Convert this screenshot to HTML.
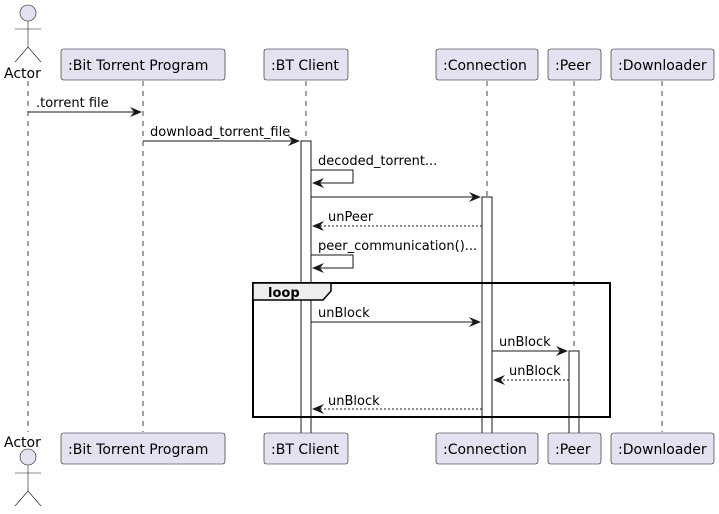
<!DOCTYPE html>
<html><head><style>body{margin:0;background:#fff}svg{display:block}text{font-family:"DejaVu Sans","Liberation Sans",sans-serif;font-size:13px;fill:#000}</style></head><body>
<svg width="719" height="514" viewBox="0 0 719 514" xmlns="http://www.w3.org/2000/svg">
<g stroke="#181818" stroke-width="0.8" stroke-dasharray="5,5">
<line x1="28" y1="81" x2="28" y2="432"/>
<line x1="143" y1="81" x2="143" y2="432"/>
<line x1="306" y1="81" x2="306" y2="432"/>
<line x1="487" y1="81" x2="487" y2="432"/>
<line x1="574" y1="81" x2="574" y2="432"/>
<line x1="662" y1="81" x2="662" y2="432"/>
</g>
<g fill="#fff" stroke="none">
<rect x="301" y="141" width="10" height="292"/>
<rect x="482" y="197" width="10" height="236"/>
<rect x="569" y="351" width="10" height="82"/>
</g>
<g fill="none" stroke="#181818" stroke-width="1">
<path d="M301 433V141H311V433"/>
<path d="M482 433V197H492V433"/>
<path d="M569 433V351H579V433"/>
</g>
<g fill="#E2E2F0" stroke="#181818" stroke-width="0.6">
<rect x="61" y="49" width="164" height="31" rx="2.5"/>
<rect x="264" y="49" width="84" height="31" rx="2.5"/>
<rect x="436" y="49" width="102" height="31" rx="2.5"/>
<rect x="548" y="49" width="53" height="31" rx="2.5"/>
<rect x="611" y="49" width="103" height="31" rx="2.5"/>
<rect x="61" y="433" width="164" height="31" rx="2.5"/>
<rect x="264" y="433" width="84" height="31" rx="2.5"/>
<rect x="436" y="433" width="102" height="31" rx="2.5"/>
<rect x="548" y="433" width="53" height="31" rx="2.5"/>
<rect x="611" y="433" width="103" height="31" rx="2.5"/>
</g>
<g>
<text x="68" y="70" style="font-size:14px">:Bit Torrent Program</text>
<text x="271" y="70" style="font-size:14px">:BT Client</text>
<text x="443" y="70" style="font-size:14px">:Connection</text>
<text x="555" y="70" style="font-size:14px">:Peer</text>
<text x="618" y="70" style="font-size:14px">:Downloader</text>
<text x="68" y="454" style="font-size:14px">:Bit Torrent Program</text>
<text x="271" y="454" style="font-size:14px">:BT Client</text>
<text x="443" y="454" style="font-size:14px">:Connection</text>
<text x="555" y="454" style="font-size:14px">:Peer</text>
<text x="618" y="454" style="font-size:14px">:Downloader</text>
</g>
<g fill="#E2E2F0" stroke="#181818" stroke-width="0.6">
<circle cx="28" cy="13" r="8"/>
<circle cx="28" cy="457" r="8"/>
</g>
<g stroke="#181818" stroke-width="0.6" fill="none">
<path d="M28 21V47M15 29H41M28 47L15 62M28 47L41 62"/>
<path d="M28 465V491M15 473H41M28 491L15 506M28 491L41 506"/>
</g>
<text x="4" y="78" style="font-size:14px">Actor</text>
<text x="4" y="447" style="font-size:14px">Actor</text>
<rect x="253" y="283" width="357" height="134" fill="none" stroke="#000" stroke-width="2"/>
<path d="M253 283H331V291L323 300H253Z" fill="#EEEEEE" stroke="#000" stroke-width="1.5"/>
<text x="268" y="297" style="font-weight:bold">loop</text>
<g stroke="#181818" stroke-width="1" fill="none">
<line x1="28" y1="112" x2="140" y2="112"/>
<line x1="143" y1="141" x2="298" y2="141"/>
<path d="M311 170H353V183H313"/>
<line x1="311" y1="197" x2="479" y2="197"/>
<line x1="482" y1="226" x2="314" y2="226" stroke-dasharray="2,2"/>
<path d="M311 255H353V268H313"/>
<line x1="311" y1="322" x2="479" y2="322"/>
<line x1="492" y1="351" x2="566" y2="351"/>
<line x1="569" y1="380" x2="495" y2="380" stroke-dasharray="2,2"/>
<line x1="482" y1="409" x2="314" y2="409" stroke-dasharray="2,2"/>
</g>
<g fill="#181818">
<path d="M142 112l-12-5 4 5-4 5z"/>
<path d="M300 141l-12-5 4 5-4 5z"/>
<path d="M312 183l12-5-4 5 4 5z"/>
<path d="M481 197l-12-5 4 5-4 5z"/>
<path d="M312 226l12-5-4 5 4 5z"/>
<path d="M312 268l12-5-4 5 4 5z"/>
<path d="M481 322l-12-5 4 5-4 5z"/>
<path d="M568 351l-12-5 4 5-4 5z"/>
<path d="M493 380l12-5-4 5 4 5z"/>
<path d="M312 409l12-5-4 5 4 5z"/>
</g>
<text x="36" y="107">.torrent file</text>
<text x="150" y="136">download_torrent_file</text>
<text x="318" y="165">decoded_torrent...</text>
<text x="328" y="221">unPeer</text>
<text x="318" y="250">peer_communication()...</text>
<text x="318" y="317">unBlock</text>
<text x="499" y="346">unBlock</text>
<text x="509" y="375">unBlock</text>
<text x="328" y="405">unBlock</text>
</svg>
</body></html>
